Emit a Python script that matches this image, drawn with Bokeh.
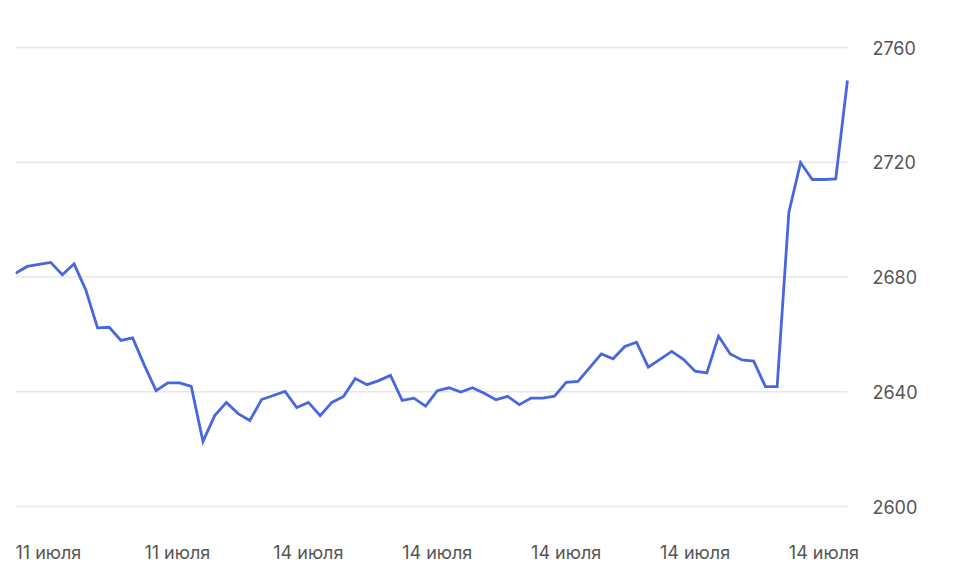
from bokeh.plotting import figure
from bokeh.models import Range1d, LabelSet, ColumnDataSource
from bokeh.core.properties import value
from bokeh.embed import file_html
from bokeh.resources import INLINE

values = [
    2681.3, 2683.7, 2684.4, 2685.1, 2680.8, 2684.6, 2675.5, 2662.3, 2662.5, 2657.9,
    2658.8, 2649.2, 2640.4, 2643.1, 2643.1, 2641.9, 2622.7, 2631.7, 2636.3, 2632.4,
    2630.0, 2637.3, 2638.7, 2640.1, 2634.5, 2636.3, 2631.7, 2636.3, 2638.4, 2644.6,
    2642.5, 2643.9, 2645.7, 2637.0, 2637.8, 2635.0, 2640.4, 2641.4, 2639.9, 2641.4,
    2639.5, 2637.2, 2638.4, 2635.5, 2637.8, 2637.8, 2638.5, 2643.3, 2643.6, 2648.4,
    2653.2, 2651.5, 2655.8, 2657.3, 2648.6, 2651.3, 2654.1, 2651.3, 2647.2, 2646.6,
    2659.4, 2653.2, 2651.1, 2650.7, 2641.8, 2641.8, 2702.5, 2719.9, 2714.0, 2714.0,
    2714.2, 2748.5,
]
x_idx = list(range(len(values)))

x_tick_pos = [0, 11, 22, 33, 44, 55, 66]
x_tick_labels = ["11 июля", "11 июля", "14 июля", "14 июля", "14 июля", "14 июля", "14 июля"]
y_ticks = [2600, 2640, 2680, 2720, 2760]
y_tick_labels = [str(t) for t in y_ticks]

FONT = "Inter"
TXT = "#555555"
LABEL_DROP = 16.0   # date labels sit this far (value units) below the lowest gridline
last = len(values) - 1

p = figure(width=949, height=580, output_backend="svg", toolbar_location=None,
           x_range=Range1d(0, 79.71), y_range=Range1d(2574.23, 2765.93),
           min_border_left=15, min_border_right=0, min_border_top=30, min_border_bottom=0,
           x_axis_location=None, y_axis_location=None)
p.outline_line_color = None
p.background_fill_color = "white"
p.border_fill_color = "white"
p.xgrid.visible = False
p.ygrid.visible = False

# horizontal gridlines spanning the data's x extent
p.segment(x0=[0] * len(y_ticks), x1=[last] * len(y_ticks), y0=y_ticks, y1=y_ticks,
          line_color="#e6e6e6", line_width=1.5)

p.line(x_idx, values, line_color="#4766E0", line_width=2.8, line_join="miter")

# y tick labels to the right of the gridlines
ylab_src = ColumnDataSource(data=dict(x=[last] * len(y_ticks), y=y_ticks, text=y_tick_labels))
p.add_layout(LabelSet(x="x", y="y", text="text", source=ylab_src, x_offset=25,
                      text_align="left", text_baseline="middle", text_font=value(FONT),
                      text_font_size=value("18px"), text_color=TXT))

# x tick labels, left-aligned at their tick positions, below the lowest gridline
xlab_src = ColumnDataSource(data=dict(x=x_tick_pos, y=[y_ticks[0] - LABEL_DROP] * len(x_tick_pos),
                                      text=x_tick_labels))
p.add_layout(LabelSet(x="x", y="y", text="text", source=xlab_src,
                      text_align="left", text_baseline="middle", text_font=value(FONT),
                      text_font_size=value("18px"), text_color=TXT))

open("out.html", "w").write(file_html(p, INLINE))
